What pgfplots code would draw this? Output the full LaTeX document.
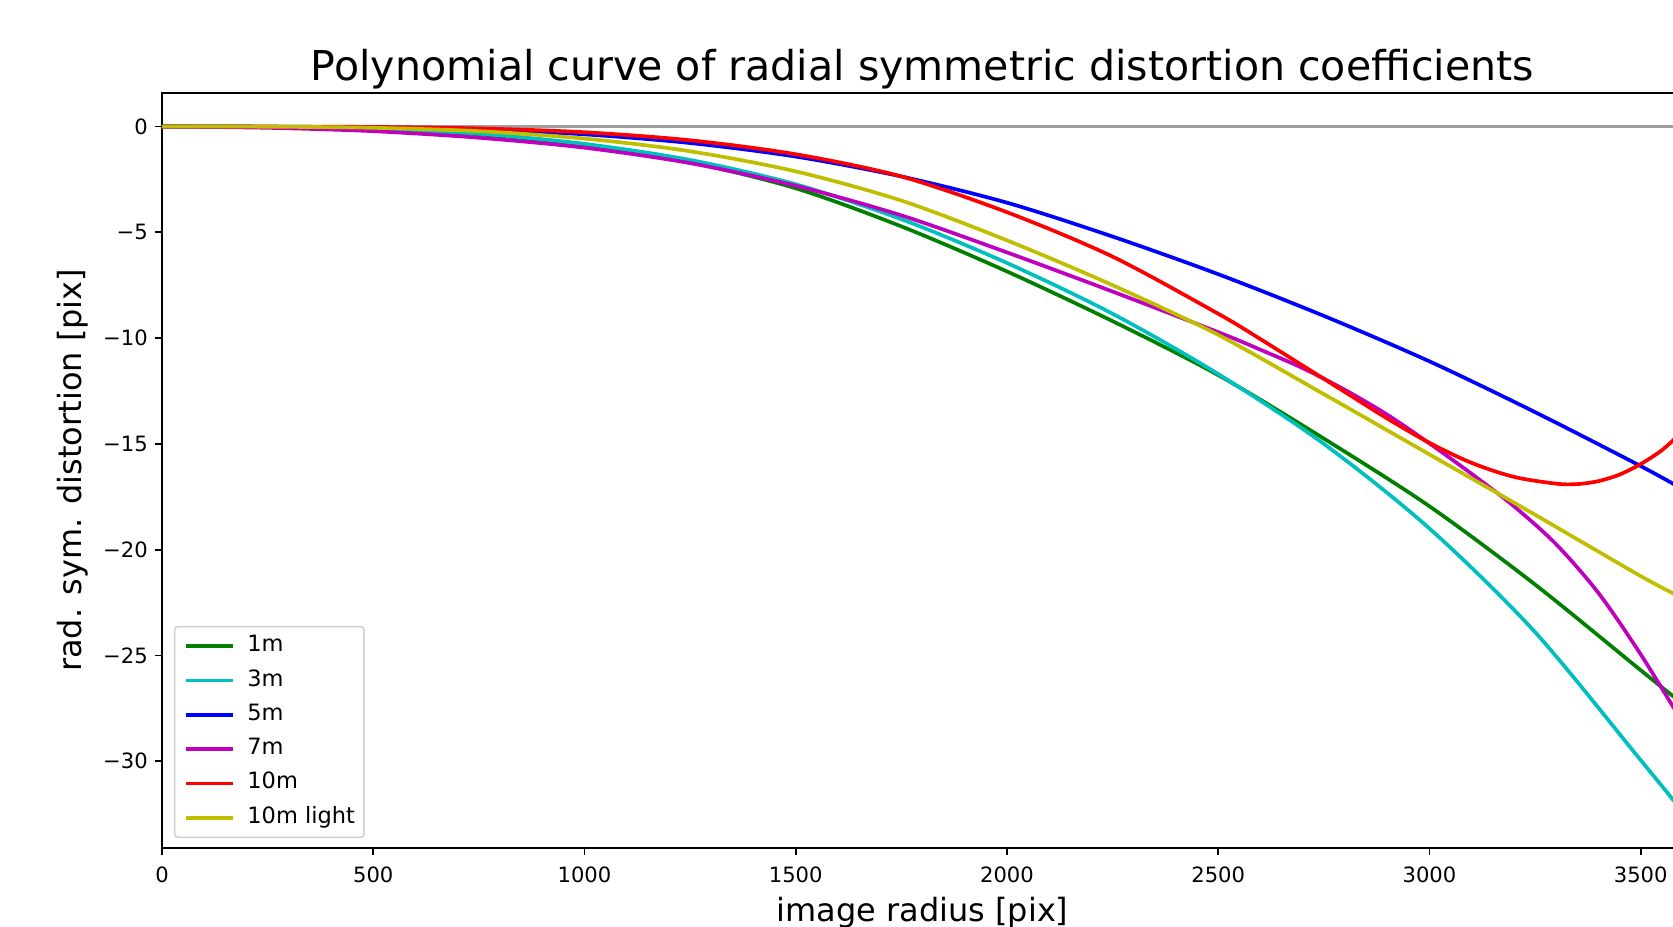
\documentclass[border=0pt]{standalone}
\usepackage{fontspec}
\setmainfont{DejaVu Sans}
\usepackage{pgfplots}
\pgfplotsset{compat=1.18}
\definecolor{mg}{rgb}{0,0.5,0}
\definecolor{mc}{rgb}{0,0.75,0.75}
\definecolor{mb}{rgb}{0,0,1}
\definecolor{mm}{rgb}{0.75,0,0.75}
\definecolor{mr}{rgb}{1,0,0}
\definecolor{my}{rgb}{0.75,0.75,0}

\begin{document}
\begin{tikzpicture}
\begin{axis}[at={(0,0)},anchor=south west,scale only axis,
 width=15.21cm,height=7.553cm,
 xmin=0,xmax=3600,ymin=-34.1,ymax=1.6,
 xtick={0,500,...,3500},xticklabels={0,500,1000,1500,2000,2500,3000,3500},
 ytick={-30,-25,-20,-15,-10,-5,0},yticklabels={−30,−25,−20,−15,−10,−5,0},
 tick pos=left,tick align=outside,major tick length=0.07cm,
 tick style={black,line width=0.5pt},
 axis line style={line width=0.5pt},
 ticklabel style={font=\fontsize{6.0}{7}\selectfont},
 xticklabel style={anchor=base,yshift=-0.28cm,inner sep=0pt},
 yticklabel style={anchor=east,inner sep=0pt,xshift=-0.066cm},
 every axis title shift=0pt,
 title={Polynomial curve of radial symmetric distortion coefficients},
 title style={at={(axis description cs:0.5,1.0155)},anchor=base,inner sep=0pt,font=\fontsize{11.7}{14}\selectfont},
 xlabel={image radius [pix]},
 xlabel style={at={(axis description cs:0.5,-0.0975)},anchor=base,inner sep=0pt,font=\fontsize{9.1}{11}\selectfont},
 ylabel={rad. sym. distortion [pix]},
 ylabel style={at={(axis description cs:-0.0526,0.5)},anchor=base,inner sep=0pt,font=\fontsize{9.1}{11}\selectfont},
 legend style={at={(axis description cs:0.0079,0.0133)},anchor=south west,
  draw=black!20,rounded corners=0.03cm,fill=white,fill opacity=0.8,text opacity=1,
  font=\fontsize{6.4}{7.5}\selectfont,inner xsep=0.09cm,inner ysep=0.09cm,
  row sep=0.133cm,column sep=0.13cm,cells={anchor=west},
  nodes={inner sep=0pt,text height=0.16cm,text depth=0.05cm}},
 legend image code/.code={\draw[#1] (0cm,0cm) -- (0.47cm,0cm);},
 every axis plot/.append style={line width=1.05pt},
]
\addplot[gray!75,forget plot] coordinates {(0,0) (3600,0)};
% 1m
\addplot[mg,smooth] coordinates {(0,0) (250,-0.02) (500,-0.11) (750,-0.37) (1000,-0.87) (1250,-1.69) (1500,-2.92) (1750,-4.72) (2000,-6.85) (2250,-9.2) (2500,-11.75) (2750,-14.75) (3000,-17.95) (3250,-21.65) (3500,-25.7) (3600,-27.3)};
\addlegendentry{1m}
% 3m
\addplot[mc,smooth] coordinates {(0,0) (250,-0.02) (500,-0.1) (750,-0.34) (1000,-0.82) (1250,-1.58) (1500,-2.73) (1750,-4.38) (2000,-6.45) (2250,-8.85) (2500,-11.7) (2750,-15.0) (3000,-19.0) (3250,-23.9) (3500,-29.95) (3600,-32.4)};
\addlegendentry{3m}
% 5m
\addplot[mb,smooth] coordinates {(0,0) (250,-0.005) (500,-0.04) (750,-0.14) (1000,-0.37) (1250,-0.78) (1500,-1.42) (1750,-2.36) (2000,-3.6) (2250,-5.2) (2500,-6.98) (2750,-8.95) (3000,-11.1) (3250,-13.5) (3500,-16.05) (3600,-17.15)};
\addlegendentry{5m}
% 7m
\addplot[mm,smooth] coordinates {(0,0) (250,-0.06) (500,-0.22) (750,-0.53) (1000,-1.0) (1250,-1.73) (1500,-2.8) (1750,-4.2) (2000,-5.95) (2250,-7.8) (2500,-9.72) (2600,-10.55) (2700,-11.42) (2800,-12.45) (2900,-13.62) (3000,-14.98) (3100,-16.42) (3200,-17.95) (3300,-19.75) (3400,-22.05) (3500,-24.95) (3600,-28.2)};
\addlegendentry{7m}
% 10m
\addplot[mr,smooth] coordinates {(0,0) (250,-0.002) (500,-0.02) (750,-0.09) (1000,-0.27) (1250,-0.65) (1500,-1.31) (1750,-2.36) (2000,-4.05) (2250,-6.15) (2500,-8.85) (2600,-10.05) (2700,-11.3) (2800,-12.55) (2900,-13.8) (3000,-14.95) (3100,-15.9) (3200,-16.56) (3300,-16.88) (3350,-16.9) (3400,-16.76) (3450,-16.45) (3500,-15.95) (3550,-15.3) (3600,-14.4)};
\addlegendentry{10m}
% 10m light
\addplot[my,smooth] coordinates {(0,0) (250,-0.008) (500,-0.06) (750,-0.22) (1000,-0.57) (1250,-1.17) (1500,-2.12) (1750,-3.5) (2000,-5.38) (2250,-7.5) (2500,-9.85) (2750,-12.65) (3000,-15.5) (3250,-18.35) (3500,-21.25) (3600,-22.3)};
\addlegendentry{10m light}
\end{axis}
\pgfresetboundingbox
\path[use as bounding box] (-1.62cm,-0.79cm) rectangle (15.11cm,8.48cm);
\end{tikzpicture}
\end{document}
